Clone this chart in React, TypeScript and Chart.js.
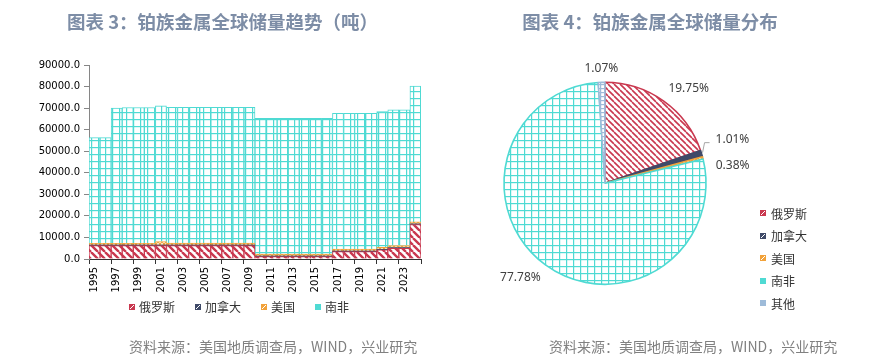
import React, { useEffect, useRef } from 'react';
import { Chart, registerables } from 'chart.js';

Chart.register(...registerables);

// ---------- data ----------
const years = [
  '1995', '1996', '1997', '1998', '1999', '2000', '2001', '2002', '2003', '2004',
  '2005', '2006', '2007', '2008', '2009', '2010', '2011', '2012', '2013', '2014',
  '2015', '2016', '2017', '2018', '2019', '2020', '2021', '2022', '2023', '2024',
];
const russia = [
  6200, 6200, 6200, 6200, 6200, 6200, 6200, 6200, 6200, 6200,
  6200, 6200, 6200, 6200, 6200, 1100, 1100, 1100, 1100, 1100,
  1100, 1100, 3400, 3400, 3400, 3400, 4200, 5000, 5000, 16000,
];
const canada = [
  310, 310, 310, 310, 310, 310, 310, 310, 310, 310,
  310, 310, 310, 310, 310, 310, 310, 310, 310, 310,
  310, 310, 310, 310, 310, 310, 310, 310, 310, 310,
];
const usa = [
  780, 780, 780, 780, 780, 780, 1600, 900, 900, 900,
  900, 900, 900, 900, 900, 900, 900, 900, 900, 900,
  900, 900, 900, 900, 900, 900, 900, 900, 900, 900,
];
const southAfrica = [
  49000, 49000, 62700, 63000, 63000, 63000, 63000, 63000, 63000, 63000,
  63000, 63000, 63000, 63000, 63000, 63000, 63000, 63000, 63000, 63000,
  63000, 63000, 63000, 63000, 63000, 63000, 63000, 63000, 63000, 63000,
];
const barSeriesNames = ['俄罗斯', '加拿大', '美国', '南非'];
const yTicks = [0, 10000, 20000, 30000, 40000, 50000, 60000, 70000, 80000, 90000];

const pieLabels = ['俄罗斯', '加拿大', '美国', '南非', '其他'];
const pieValues = [19.75, 1.01, 0.38, 77.78, 1.07];

const title3 = '图表 3：铂族金属全球储量趋势（吨）';
const title4 = '图表 4：铂族金属全球储量分布';
const sourceText = '资料来源：美国地质调查局，WIND，兴业研究';

// ---------- styles ----------
const RED = '#c9384f';
const NAVY = '#3f4a68';
const ORANGE = '#f2a23a';
const CYAN = '#4fdad3';
const LIGHTBLUE = '#9ebbd9';
const TITLE_COLOR = '#7d8da6';
const SOURCE_COLOR = '#808080';
const CJK = '"Noto Sans CJK SC", "Noto Sans", sans-serif';

function stripePattern(color: string, size: number, lw: number, bg = '#ffffff') {
  const c = document.createElement('canvas');
  c.width = size; c.height = size;
  const g = c.getContext('2d')!;
  g.fillStyle = bg; g.fillRect(0, 0, size, size);
  g.strokeStyle = color; g.lineWidth = lw;
  g.beginPath();
  for (const k of [-size, 0, size]) { g.moveTo(k, 0); g.lineTo(k + size, size); }
  g.stroke();
  return g.createPattern(c, 'repeat')!;
}
function gridPattern(color: string, size: number, lw: number, bg = '#ffffff') {
  const c = document.createElement('canvas');
  c.width = size; c.height = size;
  const g = c.getContext('2d')!;
  g.fillStyle = bg; g.fillRect(0, 0, size, size);
  g.fillStyle = color;
  g.fillRect(0, 0, size, lw);
  g.fillRect(0, 0, lw, size);
  return g.createPattern(c, 'repeat')!;
}
function crossPattern(color: string, size: number, bg = '#ffffff') {
  const c = document.createElement('canvas');
  c.width = size; c.height = size;
  const g = c.getContext('2d')!;
  g.fillStyle = bg; g.fillRect(0, 0, size, size);
  g.strokeStyle = color; g.lineWidth = 1;
  g.beginPath();
  g.moveTo(0, 0); g.lineTo(size, size);
  g.moveTo(size, 0); g.lineTo(0, size);
  g.stroke();
  return g.createPattern(c, 'repeat')!;
}

// pie label special placements for tiny slices (offset from slice edge)
const pieSpecial: Record<number, { dx: number; dy: number; leader?: boolean }> = {
  1: { dx: 14, dy: -14, leader: true },
  2: { dx: 13, dy: 8 },
};

const pieLabelPlugin = {
  id: 'pieLabelPlugin',
  afterDatasetsDraw(chart: any) {
    const meta = chart.getDatasetMeta(0);
    const g = chart.ctx as CanvasRenderingContext2D;
    g.save();
    g.font = '12px "Noto Sans", sans-serif';
    g.fillStyle = '#404040';
    meta.data.forEach((arc: any, i: number) => {
      const { x, y, startAngle, endAngle, outerRadius } = arc.getProps(
        ['x', 'y', 'startAngle', 'endAngle', 'outerRadius'], true);
      const mid = (startAngle + endAngle) / 2;
      const cos = Math.cos(mid), sin = Math.sin(mid);
      const txt = pieValues[i].toFixed(2) + '%';
      const sp = pieSpecial[i];
      if (sp) {
        const ex = x + cos * outerRadius, ey = y + sin * outerRadius;
        const lx = ex + sp.dx, ly = ey + sp.dy;
        if (sp.leader) {
          g.strokeStyle = '#a6a6a6'; g.lineWidth = 1;
          g.beginPath();
          g.moveTo(ex + 1, ey - 1);
          g.lineTo(ex + 3, ly + 3);
          g.lineTo(lx - 6, ly + 3);
          g.stroke();
        }
        g.textAlign = 'left'; g.textBaseline = 'middle';
        g.fillText(txt, lx, ly);
      } else {
        const r = outerRadius + 8;
        const ax = x + cos * r, ay = y + sin * r;
        g.textAlign = Math.abs(cos) < 0.2 ? 'center' : (cos > 0 ? 'left' : 'right');
        g.textBaseline = Math.abs(sin) < 0.2 ? 'middle' : (sin > 0 ? 'top' : 'bottom');
        g.fillText(txt, ax, ay);
      }
    });
    g.restore();
  },
};

function swatchStyle(color: string, kind: 'diag' | 'hline', size: number): React.CSSProperties {
  const bg = kind === 'diag'
    ? `linear-gradient(135deg, ${color} 42%, #ffffff 42%, #ffffff 62%, ${color} 62%)`
    : `linear-gradient(180deg, ${color} 40%, #ffffff 40%, #ffffff 60%, ${color} 60%)`;
  return {
    display: 'inline-block', width: size, height: size, background: bg,
    border: `1px solid ${color}`, boxSizing: 'border-box', verticalAlign: 'middle',
  };
}

const legendKinds: Array<'diag' | 'hline'> = ['diag', 'diag', 'diag', 'hline', 'hline'];
const legendColors = [RED, NAVY, ORANGE, CYAN, LIGHTBLUE];

export default function App() {
  const barRef = useRef<HTMLCanvasElement>(null);
  const pieRef = useRef<HTMLCanvasElement>(null);

  useEffect(() => {
    const barChart = new Chart(barRef.current!, {
      type: 'bar',
      data: {
        labels: years,
        datasets: [
          { label: barSeriesNames[0], data: russia, backgroundColor: stripePattern(RED, 7, 2.4), borderColor: RED, borderWidth: 1 },
          { label: barSeriesNames[1], data: canada, backgroundColor: NAVY, borderColor: NAVY, borderWidth: 0 },
          { label: barSeriesNames[2], data: usa, backgroundColor: crossPattern(ORANGE, 4, '#fbe6c4'), borderColor: ORANGE, borderWidth: 1 },
          { label: barSeriesNames[3], data: southAfrica, backgroundColor: gridPattern(CYAN, 7, 1.2), borderColor: CYAN, borderWidth: 1 },
        ],
      },
      options: {
        animation: false,
        responsive: false,
        maintainAspectRatio: false,
        layout: { padding: { left: 0, right: 19, top: 65, bottom: 63 } },
        datasets: { bar: { categoryPercentage: 1, barPercentage: 1 } } as any,
        plugins: { legend: { display: false }, tooltip: { enabled: false } },
        scales: {
          x: {
            stacked: true,
            grid: {
              drawOnChartArea: false, offset: true, tickLength: 5,
              tickColor: (c: any) => (c.index === undefined || c.index % 2 === 0) ? '#333333' : 'rgba(0,0,0,0)',
            },
            border: { color: '#333333', width: 1 },
            ticks: {
              autoSkip: false, maxRotation: 90, minRotation: 90, padding: 3,
              color: '#000000', font: { family: 'DejaVu Sans', size: 10 },
              callback: (_v: any, i: number) => (i % 2 === 0 ? years[i] : ''),
            },
            afterFit: (s: any) => { s.height = 40; },
          },
          y: {
            stacked: true, min: yTicks[0], max: yTicks[yTicks.length - 1],
            afterBuildTicks: (s: any) => { s.ticks = yTicks.map((v) => ({ value: v })); },
            grid: { drawOnChartArea: false, tickLength: 5, tickColor: '#868686' },
            border: { color: '#868686', width: 1 },
            ticks: {
              padding: 4, color: '#000000', font: { family: 'DejaVu Sans', size: 10 },
              callback: (v: any) => Number(v).toFixed(1),
            },
            afterFit: (s: any) => { s.width = 89; },
          },
        },
      },
    });

    const pieChart = new Chart(pieRef.current!, {
      type: 'pie',
      data: {
        labels: pieLabels,
        datasets: [{
          data: pieValues,
          radius: 101,
          backgroundColor: [
            stripePattern(RED, 6, 1.6),
            NAVY,
            crossPattern(ORANGE, 4, '#fde4bd'),
            gridPattern(CYAN, 7, 1.2),
            gridPattern(LIGHTBLUE, 4, 1.2),
          ],
          borderColor: [RED, NAVY, ORANGE, CYAN, LIGHTBLUE],
          borderWidth: 1.6,
        } as any],
      },
      options: {
        animation: false,
        responsive: false,
        maintainAspectRatio: false,
        layout: { padding: { left: 63.5, top: 82.3, right: 169.5, bottom: 77.7 } },
        plugins: { legend: { display: false }, tooltip: { enabled: false } },
      },
      plugins: [pieLabelPlugin],
    });

    return () => { barChart.destroy(); pieChart.destroy(); };
  }, []);

  const abs = (style: React.CSSProperties): React.CSSProperties => ({ position: 'absolute', whiteSpace: 'nowrap', ...style });

  return (
    <div style={{ position: 'absolute', left: 0, top: 0, width: 876, height: 362, background: '#ffffff', overflow: 'hidden' }}>
      <canvas ref={barRef} width={440} height={362} style={{ position: 'absolute', left: 0, top: 0, width: 440, height: 362 }} />
      <canvas ref={pieRef} width={436} height={362} style={{ position: 'absolute', left: 440, top: 0, width: 436, height: 362 }} />

      <div style={abs({ left: 0, width: 445, top: 8, textAlign: 'center', fontFamily: CJK, fontSize: 18.5, fontWeight: 700, color: TITLE_COLOR, lineHeight: '26px' })}>{title3}</div>
      <div style={abs({ left: 440, width: 420, top: 8, textAlign: 'center', fontFamily: CJK, fontSize: 18.5, fontWeight: 700, color: TITLE_COLOR, lineHeight: '26px' })}>{title4}</div>

      <div style={abs({ left: 129, top: 298, display: 'flex', alignItems: 'center', fontFamily: CJK, fontSize: 12, color: '#333333', lineHeight: '18px' })}>
        {barSeriesNames.map((n, i) => (
          <span key={n} style={{ display: 'inline-flex', alignItems: 'center', marginRight: 20 }}>
            <span style={swatchStyle(legendColors[i], legendKinds[i], 6)} />
            <span style={{ marginLeft: 4 }}>{n}</span>
          </span>
        ))}
      </div>

      <div style={abs({ left: 760, top: 202, fontFamily: CJK, fontSize: 12, color: '#333333' })}>
        {pieLabels.map((n, i) => (
          <div key={n} style={{ display: 'flex', alignItems: 'center', height: 22.5 }}>
            <span style={swatchStyle(legendColors[i], legendKinds[i], 6)} />
            <span style={{ marginLeft: 5 }}>{n}</span>
          </div>
        ))}
      </div>

      <div style={abs({ left: 129, top: 336, fontFamily: CJK, fontSize: 14, color: SOURCE_COLOR, lineHeight: '20px' })}>{sourceText}</div>
      <div style={abs({ left: 549, top: 336, fontFamily: CJK, fontSize: 14, color: SOURCE_COLOR, lineHeight: '20px' })}>{sourceText}</div>
    </div>
  );
}
